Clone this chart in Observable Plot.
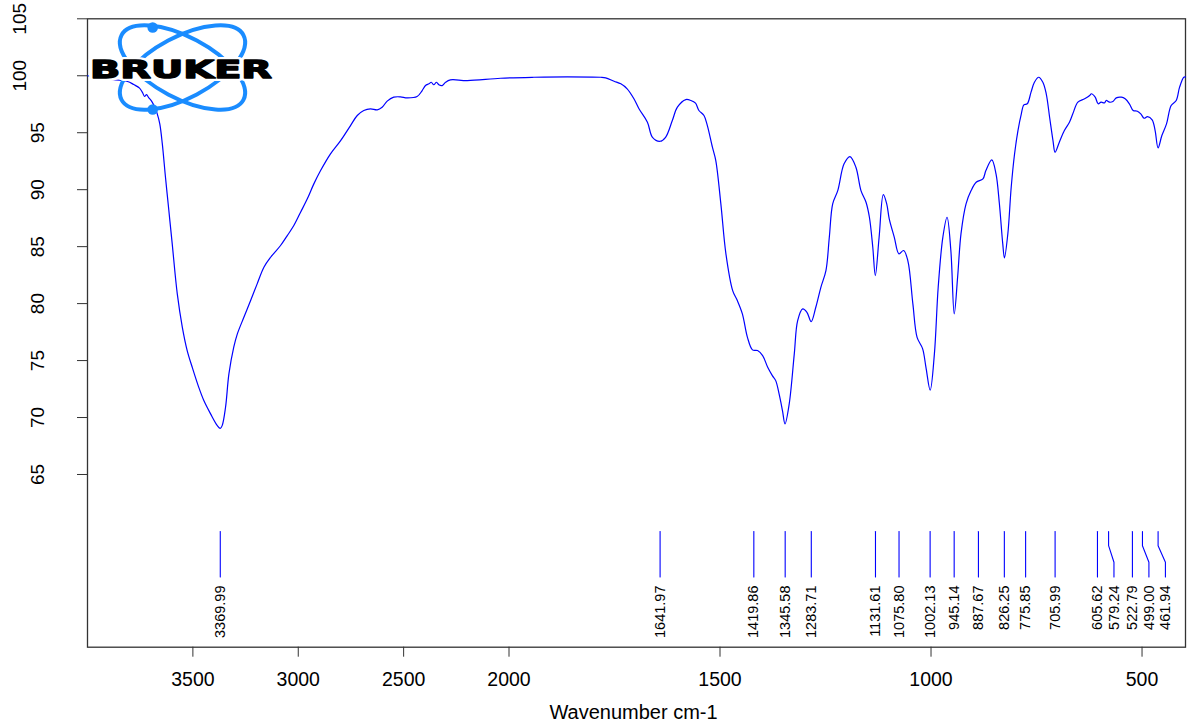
<!DOCTYPE html>
<html><head><meta charset="utf-8">
<script src="https://cdn.jsdelivr.net/npm/d3@7"></script>
<script src="https://cdn.jsdelivr.net/npm/@observablehq/plot@0.6"></script>
<style>html,body{margin:0;padding:0;background:#fff;} #chart svg{display:block;}</style>
</head><body><div id="chart"></div>
<script>
// ---- data ----
const wavenumber = [4000,3909,3810,3781,3753,3739,3729,3720,3710,3696,
3682,3669,3657,3645,3630,3614,3598,3574,3550,3527,
3503,3472,3448,3416,3384,3370,3361,3345,3329,3306,
3289,3258,3226,3195,3163,3131,3084,3052,3021,2989,
2957,2926,2894,2847,2799,2752,2720,2689,2657,2625,
2602,2578,2547,2515,2483,2436,2412,2396,2380,2369,
2357,2344,2333,2317,2301,2278,2198,2040,1941,1862,
1783,1771,1751,1735,1720,1704,1692,1672,1660,1642,
1629,1613,1601,1581,1569,1558,1550,1538,1530,1518,
1510,1498,1486,1470,1459,1447,1435,1423,1411,1399,
1387,1376,1368,1360,1352,1346,1336,1324,1316,1304,
1294,1284,1273,1261,1249,1241,1233,1221,1206,1192,
1178,1166,1154,1146,1138,1132,1123,1113,1105,1099,
1087,1076,1065,1055,1043,1033,1020,1012,1002,992,
983,972,962,953,945,937,929,917,905,893,
877,870,856,846,838,830,826,818,810,802,
794,786,780,772,763,755,745,735,727,719,
711,706,696,684,672,664,652,636,624,620,
611,604,597,589,585,577,569,561,549,540,
530,521,511,503,495,487,476,469,462,453,
442,431,419,411,401,397];
const transmittance = [100.0,99.7,99.5,99.23,98.92,98.53,98.18,98.35,98.09,97.78,
97.3,96.66,95.78,94.02,91.09,88.17,85.24,80.85,77.92,75.88,
74.41,72.65,71.49,70.32,69.29,69.05,69.29,70.9,73.83,76.17,
77.34,78.8,80.27,81.73,83.19,84.07,85.1,85.97,86.85,88.02,
89.2,90.51,91.68,93.15,94.31,95.63,96.51,96.95,97.1,97.01,
97.24,97.77,98.12,98.15,98.06,98.18,98.7,99.14,99.29,99.43,
99.21,99.43,99.21,99.14,99.43,99.64,99.58,99.78,99.87,99.91,
99.87,99.82,99.52,99.29,98.85,97.98,97.1,95.92,94.6,94.25,
94.6,96.07,97.24,97.91,97.83,97.59,96.95,96.51,95.63,93.73,
92.56,88.76,84.37,81.14,80.27,79.1,77.04,75.94,75.88,75.44,
74.41,73.68,73.24,72.07,70.61,69.44,71.2,75.59,78.51,79.54,
79.24,78.42,79.68,81.43,82.9,85.82,88.76,89.92,92.27,92.91,
91.97,89.92,88.9,87.58,84.95,82.46,85.82,89.57,88.76,87.44,
85.82,84.37,84.66,83.78,79.98,77.04,76.05,74.41,72.41,75.59,
81.43,85.82,87.58,84.66,79.1,82.31,86.12,88.76,89.92,90.65,
90.95,91.68,92.62,91.39,88.76,85.24,84.02,86.12,90.21,93.15,
95.19,96.66,97.45,97.54,98.56,99.43,99.87,99.43,98.42,96.36,
94.31,93.29,94.17,95.19,95.92,96.66,97.68,97.98,98.27,98.42,
98.12,97.54,97.68,97.62,97.83,97.68,97.74,98.06,98.12,97.98,
97.54,96.95,96.89,96.66,96.27,96.42,96.13,95.19,93.67,94.75,
95.78,97.39,97.83,99.0,99.87,99.9];
const peakWavenumbers = [3369.99,1641.97,1419.86,1345.58,1283.71,1131.61,1075.80,1002.13,945.14,887.67,826.25,775.85,705.99,605.62,579.24,522.79,499.00,461.94];
const xTicks = [3500,3000,2500,2000,1500,1000,500];
const yTicksLow = [65,70,75,80,85,90,95];
const yTicksHigh = [100,105];
const xTitle = "Wavenumber cm-1";
const logoText = "BRUKER";

// ---- layout ----
const W = 1192, H = 728;
const mL = 87, mR = 7, mT = 18.3, mB = 81.3;
const xDomain = [4000, 2000, 397];          // compressed scale above 2000 cm-1
const xRange = [mL, 508.5, W - mR];
const yDomain = [49.84, 105];
const font = "'Liberation Sans', Arial, Helvetica, sans-serif";

const spectrum = wavenumber.map((w, i) => ({w, t: transmittance[i]}));

const xs = Plot.scale({x: {type: "linear", domain: xDomain, range: xRange}});
const minGap = 16.5;
let prev = -Infinity;
const peaks = peakWavenumbers.map(w => {
  const px = xs.apply(w);
  const lx = Math.max(px, prev + minGap);
  prev = lx;
  return {w, label: w.toFixed(2), lw: xs.invert(lx)};
});
const markTop = 60, bendTop = 58.75, bendBottom = 57.3, markBottom = 56;
const peakPaths = peaks.flatMap(p => [
  {id: p.label, w: p.w, t: markTop},
  {id: p.label, w: p.w, t: bendTop},
  {id: p.label, w: p.lw, t: bendBottom},
  {id: p.label, w: p.lw, t: markBottom}
]);

const axisColor = "#333";

const chart = Plot.plot({
  width: W, height: H,
  marginLeft: mL, marginRight: mR, marginTop: mT, marginBottom: mB,
  style: {fontFamily: font, background: "white", color: "black"},
  x: {type: "linear", domain: xDomain, range: xRange},
  y: {domain: yDomain},
  marks: [
    Plot.frame({stroke: axisColor, strokeWidth: 1.3}),
    Plot.axisX(xTicks, {tickSize: 10, tickPadding: 15, fontSize: 19.5, tickFormat: d3.format("d"), label: null, stroke: axisColor}),
    Plot.axisY([...yTicksLow, ...yTicksHigh], {tickSize: 10, tickFormat: () => "", label: null, stroke: axisColor}),
    Plot.text(yTicksLow, {y: d => d, text: d => String(d), frameAnchor: "left", dx: -44, rotate: -90, textAnchor: "middle", lineAnchor: "bottom", fontSize: 19}),
    Plot.text(yTicksHigh, {y: d => d, text: d => String(d), frameAnchor: "left", dx: -62, rotate: -90, textAnchor: "middle", lineAnchor: "bottom", fontSize: 19}),
    Plot.text([xTitle], {text: d => d, frameAnchor: "bottom", dx: -3, dy: 71.6, lineAnchor: "bottom", fontSize: 20}),
    Plot.line(spectrum, {x: "w", y: "t", stroke: "#0000ff", strokeWidth: 1.2, curve: "catmull-rom"}),
    Plot.line(peakPaths, {x: "w", y: "t", z: "id", stroke: "#0000ff", strokeWidth: 1.1}),
    Plot.text(peaks, {x: "lw", y: () => markBottom, text: "label", rotate: -90, textAnchor: "end", lineAnchor: "middle", dy: 8.5, fontSize: 14.5})
  ]
});

// ---- Bruker logo (decoration) ----
function logo() {
  const g = d3.create("svg:g").attr("text-anchor", "start");
  const blue = "#1a8cff";
  const cx = 182.5, cy = 67.5;
  [28, -28].forEach(a => g.append("ellipse")
    .attr("cx", cx).attr("cy", cy).attr("rx", 69).attr("ry", 30.5)
    .attr("transform", `rotate(${a} ${cx} ${cy})`)
    .attr("fill", "none").attr("stroke", blue).attr("stroke-width", 4));
  [[152.7, 27.5], [152.7, 109.5]].forEach(([x, y]) => g.append("circle")
    .attr("cx", x).attr("cy", y).attr("r", 5.3).attr("fill", blue));
  const t = (fill, stroke, sw) => g.append("text")
    .attr("x", 90).attr("y", 78.3).attr("text-anchor", "start")
    .attr("textLength", 182).attr("lengthAdjust", "spacingAndGlyphs")
    .attr("font-family", "'DejaVu Sans', sans-serif").attr("font-weight", "bold").attr("font-size", 25)
    .attr("fill", fill).attr("stroke", stroke).attr("stroke-width", sw).attr("stroke-linejoin", "round")
    .text(logoText);
  t("white", "white", 6);
  t("black", "black", 1.4);
  return g.node();
}
chart.appendChild(logo());

document.getElementById("chart").appendChild(chart);
</script>
</body></html>
